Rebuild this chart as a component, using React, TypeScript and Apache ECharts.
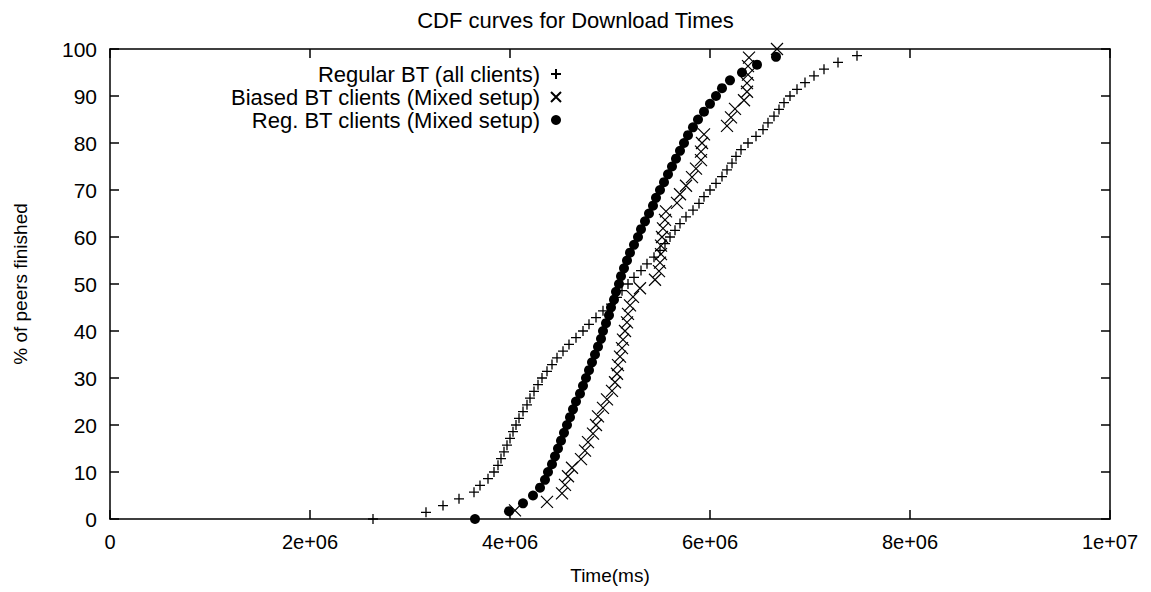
import React, { useEffect, useRef } from "react";
import * as echarts from "echarts";

const title = "CDF curves for Download Times";
const xName = "Time(ms)";
const yName = "% of peers finished";
const seriesNames = [
  "Regular BT (all clients)",
  "Biased BT clients (Mixed setup)",
  "Reg. BT clients (Mixed setup)",
];

// Regular BT (all clients): time (ms) and % finished
const regularX = [
  2.63e6, 3.16e6, 3.33e6, 3.49e6, 3.64e6, 3.70e6, 3.78e6, 3.84e6, 3.88e6, 3.91e6,
  3.94e6, 3.97e6, 4.00e6, 4.03e6, 4.06e6, 4.09e6, 4.13e6, 4.17e6, 4.20e6, 4.24e6,
  4.28e6, 4.32e6, 4.37e6, 4.42e6, 4.47e6, 4.53e6, 4.59e6, 4.66e6, 4.73e6, 4.79e6,
  4.86e6, 4.93e6, 5.01e6, 5.07e6, 5.12e6, 5.18e6, 5.24e6, 5.31e6, 5.37e6, 5.44e6,
  5.50e6, 5.55e6, 5.60e6, 5.65e6, 5.70e6, 5.76e6, 5.83e6, 5.89e6, 5.94e6, 6.00e6,
  6.06e6, 6.12e6, 6.17e6, 6.22e6, 6.26e6, 6.31e6, 6.38e6, 6.46e6, 6.53e6, 6.58e6,
  6.64e6, 6.69e6, 6.74e6, 6.80e6, 6.87e6, 6.95e6, 7.04e6, 7.14e6, 7.28e6, 7.47e6,
];
const regularY = [
  0, 1.43, 2.86, 4.29, 5.71, 7.14, 8.57, 10.0, 11.43, 12.86,
  14.29, 15.71, 17.14, 18.57, 20.0, 21.43, 22.86, 24.29, 25.71, 27.14,
  28.57, 30.0, 31.43, 32.86, 34.29, 35.71, 37.14, 38.57, 40.0, 41.43,
  42.86, 44.29, 45.71, 47.14, 48.57, 50.0, 51.43, 52.86, 54.29, 55.71,
  57.14, 58.57, 60.0, 61.43, 62.86, 64.29, 65.71, 67.14, 68.57, 70.0,
  71.43, 72.86, 74.29, 75.71, 77.14, 78.57, 80.0, 81.43, 82.86, 84.29,
  85.71, 87.14, 88.57, 90.0, 91.43, 92.86, 94.29, 95.71, 97.14, 98.57,
];

// Biased BT clients (Mixed setup)
const biasedX = [
  4.05e6, 4.37e6, 4.52e6, 4.55e6, 4.58e6, 4.62e6, 4.71e6, 4.75e6, 4.78e6, 4.83e6,
  4.86e6, 4.88e6, 4.93e6, 4.97e6, 5.02e6, 5.05e6, 5.07e6, 5.08e6, 5.10e6, 5.12e6,
  5.13e6, 5.15e6, 5.17e6, 5.18e6, 5.20e6, 5.23e6, 5.30e6, 5.45e6, 5.49e6, 5.50e6,
  5.51e6, 5.51e6, 5.52e6, 5.53e6, 5.55e6, 5.56e6, 5.67e6, 5.70e6, 5.76e6, 5.82e6,
  5.86e6, 5.91e6, 5.91e6, 5.92e6, 5.94e6, 6.17e6, 6.21e6, 6.25e6, 6.34e6, 6.37e6,
  6.37e6, 6.38e6, 6.38e6, 6.39e6, 6.67e6,
];
const biasedY = [
  1.82, 3.64, 5.45, 7.27, 9.09, 10.91, 12.73, 14.55, 16.36, 18.18,
  20.0, 21.82, 23.64, 25.45, 27.27, 29.09, 30.91, 32.73, 34.55, 36.36,
  38.18, 40.0, 41.82, 43.64, 45.45, 47.27, 49.09, 50.91, 52.73, 54.55,
  56.36, 58.18, 60.0, 61.82, 63.64, 65.45, 67.27, 69.09, 70.91, 72.73,
  74.55, 76.36, 78.18, 80.0, 81.82, 83.64, 85.45, 87.27, 89.09, 90.91,
  92.73, 94.55, 96.36, 98.18, 100.0,
];

// Reg. BT clients (Mixed setup)
const mixedRegX = [
  3.65e6, 3.99e6, 4.13e6, 4.23e6, 4.30e6, 4.35e6, 4.38e6, 4.42e6, 4.45e6, 4.48e6,
  4.51e6, 4.54e6, 4.57e6, 4.60e6, 4.63e6, 4.66e6, 4.70e6, 4.73e6, 4.76e6, 4.79e6,
  4.82e6, 4.85e6, 4.88e6, 4.91e6, 4.93e6, 4.96e6, 4.99e6, 5.01e6, 5.04e6, 5.06e6,
  5.09e6, 5.11e6, 5.14e6, 5.17e6, 5.20e6, 5.24e6, 5.28e6, 5.31e6, 5.35e6, 5.39e6,
  5.43e6, 5.46e6, 5.50e6, 5.54e6, 5.58e6, 5.62e6, 5.66e6, 5.70e6, 5.74e6, 5.78e6,
  5.83e6, 5.88e6, 5.94e6, 6.00e6, 6.06e6, 6.12e6, 6.20e6, 6.32e6, 6.47e6, 6.66e6,
];
const mixedRegY = [
  0, 1.67, 3.33, 5.0, 6.67, 8.33, 10.0, 11.67, 13.33, 15.0,
  16.67, 18.33, 20.0, 21.67, 23.33, 25.0, 26.67, 28.33, 30.0, 31.67,
  33.33, 35.0, 36.67, 38.33, 40.0, 41.67, 43.33, 45.0, 46.67, 48.33,
  50.0, 51.67, 53.33, 55.0, 56.67, 58.33, 60.0, 61.67, 63.33, 65.0,
  66.67, 68.33, 70.0, 71.67, 73.33, 75.0, 76.67, 78.33, 80.0, 81.67,
  83.33, 85.0, 86.67, 88.33, 90.0, 91.67, 93.33, 95.0, 96.67, 98.33,
];

const pairs = (xs: number[], ys: number[]) => xs.map((x, i) => [x, ys[i]]);

const FONT = "Liberation Sans";

const fmtX = (v: number) => {
  if (v === 0) return "0";
  const e = Math.floor(Math.log10(v) + 1e-9);
  const m = Math.round((v / Math.pow(10, e)) * 1000) / 1000;
  return `${m}e+${String(e).padStart(2, "0")}`;
};

export default function App() {
  const ref = useRef<HTMLDivElement>(null);
  useEffect(() => {
    if (!ref.current) return;
    const chart = echarts.init(ref.current, null, { renderer: "svg" });
    const lineStyle = { color: "#000", width: 1.5 };
    const tick = { show: true, inside: true, length: 9, lineStyle: { color: "#000", width: 1.5 } };
    chart.setOption({
      animation: false,
      backgroundColor: "#fff",
      title: {
        text: title,
        left: "center",
        top: 4,
        textStyle: { fontFamily: FONT, fontSize: 22, fontWeight: "normal", color: "#000" },
      },
      legend: {
        orient: "vertical",
        align: "right",
        right: 584,
        top: 58,
        itemWidth: 10,
        itemHeight: 10,
        itemGap: 1,
        textStyle: { fontFamily: FONT, fontSize: 22, color: "#000", padding: [0, 6, 0, 0] },
        data: seriesNames,
      },
      grid: { left: 110, right: 41, top: 49, bottom: 73, containLabel: false },
      xAxis: [
        {
          type: "value",
          min: 0,
          max: 1e7,
          interval: 2e6,
          name: xName,
          nameLocation: "middle",
          nameGap: 47,
          nameTextStyle: { fontFamily: FONT, fontSize: 19, color: "#000" },
          axisLine: { show: true, onZero: false, lineStyle },
          axisTick: tick,
          axisLabel: { formatter: fmtX, margin: 13, fontFamily: FONT, fontSize: 20, color: "#000" },
          splitLine: { show: false },
        },
        {
          type: "value",
          position: "top",
          min: 0,
          max: 1e7,
          interval: 2e6,
          axisLine: { show: true, onZero: false, lineStyle },
          axisTick: tick,
          axisLabel: { show: false },
          splitLine: { show: false },
        },
      ],
      yAxis: [
        {
          type: "value",
          min: 0,
          max: 100,
          interval: 10,
          name: yName,
          nameLocation: "middle",
          nameGap: 80,
          nameTextStyle: { fontFamily: FONT, fontSize: 19, color: "#000" },
          axisLine: { show: true, onZero: false, lineStyle },
          axisTick: tick,
          axisLabel: { margin: 13, fontFamily: FONT, fontSize: 21, color: "#000" },
          splitLine: { show: false },
        },
        {
          type: "value",
          position: "right",
          min: 0,
          max: 100,
          interval: 10,
          axisLine: { show: true, onZero: false, lineStyle },
          axisTick: tick,
          axisLabel: { show: false },
          splitLine: { show: false },
        },
      ],
      series: [
        {
          name: seriesNames[0],
          type: "scatter",
          data: pairs(regularX, regularY),
          symbol: "path://M5,0L5,10M0,5L10,5",
          symbolSize: 10,
          itemStyle: { color: "transparent", borderColor: "#000", borderWidth: 1.3, opacity: 1 },
        },
        {
          name: seriesNames[1],
          type: "scatter",
          data: pairs(biasedX, biasedY),
          symbol: "path://M0,0L10,10M10,0L0,10",
          symbolSize: 12,
          itemStyle: { color: "transparent", borderColor: "#000", borderWidth: 1.2, opacity: 1 },
        },
        {
          name: seriesNames[2],
          type: "scatter",
          data: pairs(mixedRegX, mixedRegY),
          symbol: "circle",
          symbolSize: 10,
          itemStyle: { color: "#000", opacity: 1 },
        },
      ],
    });
    return () => chart.dispose();
  }, []);
  return (
    <div
      ref={ref}
      style={{ position: "absolute", left: 0, top: 0, width: 1151, height: 592 }}
    />
  );
}
